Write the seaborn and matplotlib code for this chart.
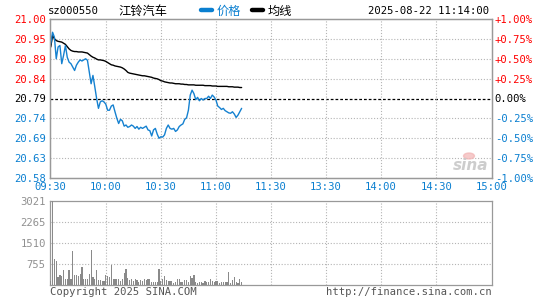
import numpy as np
import pandas as pd
import matplotlib
matplotlib.use("Agg")
import matplotlib.pyplot as plt
import seaborn as sns

# ---------------- data ----------------
prev_close = 20.79
price = [20.934, 20.965, 20.952, 20.895, 20.926, 20.930, 20.882, 20.904, 20.930, 20.899,
         20.886, 20.882, 20.873, 20.864, 20.878, 20.886, 20.892, 20.889, 20.892, 20.895,
         20.891, 20.860, 20.829, 20.851, 20.821, 20.790, 20.764, 20.781, 20.784, 20.781,
         20.775, 20.759, 20.759, 20.770, 20.773, 20.755, 20.738, 20.724, 20.735, 20.731,
         20.717, 20.720, 20.714, 20.716, 20.720, 20.717, 20.711, 20.716, 20.709, 20.714,
         20.711, 20.714, 20.717, 20.707, 20.705, 20.691, 20.707, 20.711, 20.696, 20.685,
         20.689, 20.688, 20.694, 20.711, 20.720, 20.711, 20.709, 20.711, 20.703, 20.707,
         20.716, 20.720, 20.723, 20.735, 20.739, 20.759, 20.799, 20.812, 20.803, 20.787,
         20.793, 20.784, 20.790, 20.786, 20.790, 20.790, 20.796, 20.790, 20.799, 20.794,
         20.786, 20.770, 20.766, 20.761, 20.764, 20.758, 20.755, 20.752, 20.751, 20.755,
         20.749, 20.740, 20.746, 20.755, 20.764]
avg = [20.926, 20.956, 20.948, 20.943, 20.941, 20.940, 20.939, 20.936, 20.933, 20.927,
       20.921, 20.917, 20.915, 20.914, 20.914, 20.913, 20.913, 20.913, 20.912, 20.911,
       20.910, 20.906, 20.902, 20.899, 20.897, 20.894, 20.892, 20.892, 20.891, 20.890,
       20.888, 20.885, 20.882, 20.879, 20.878, 20.876, 20.875, 20.874, 20.873, 20.871,
       20.868, 20.864, 20.859, 20.857, 20.856, 20.855, 20.854, 20.853, 20.852, 20.851,
       20.850, 20.850, 20.849, 20.848, 20.847, 20.846, 20.844, 20.843, 20.842, 20.840,
       20.837, 20.836, 20.834, 20.833, 20.832, 20.831, 20.831, 20.830, 20.829, 20.829,
       20.829, 20.828, 20.828, 20.827, 20.827, 20.826, 20.826, 20.826, 20.826, 20.825,
       20.825, 20.825, 20.825, 20.825, 20.824, 20.824, 20.824, 20.824, 20.823, 20.823,
       20.823, 20.822, 20.822, 20.822, 20.822, 20.822, 20.822, 20.821, 20.821, 20.821,
       20.820, 20.820, 20.820, 20.819, 20.819]
volume = [155, 3021, 940, 850, 275, 370, 310, 525, 215, 215,
          550, 205, 1205, 370, 370, 310, 405, 645, 215, 215,
          215, 405, 1265, 275, 215, 550, 190, 190, 130, 130,
          345, 310, 275, 730, 225, 225, 225, 225, 130, 225,
          430, 570, 250, 190, 225, 130, 215, 190, 105, 190,
          130, 215, 165, 215, 215, 95, 120, 105, 120, 570,
          155, 215, 335, 190, 155, 155, 130, 70, 95, 215,
          215, 105, 95, 165, 190, 120, 310, 250, 360, 120,
          70, 95, 95, 70, 130, 120, 120, 215, 130, 120,
          130, 155, 70, 95, 105, 95, 120, 475, 70, 165,
          285, 95, 70, 225, 95]
time_labels = ["09:30", "10:00", "10:30", "11:00", "11:30", "13:30", "14:00", "14:30", "15:00"]
price_labels = ["20.58", "20.63", "20.69", "20.74", "20.79", "20.84", "20.89", "20.95", "21.00"]
pct_labels = ["-1.00%", "-0.75%", "-0.50%", "-0.25%", "0.00%", "+0.25%", "+0.50%", "+0.75%", "+1.00%"]
vol_labels = ["755", "1510", "2265", "3021"]
vol_max = 3021

# ---------------- style ----------------
sns.set_theme(style="white")
plt.rcParams['font.family'] = ['DejaVu Sans Mono', 'Noto Sans CJK SC']

RED = "#ff0000"
BLUE = "#0a7fd0"
LINE_BLUE = "#1581d0"
GRAY = "#999999"
GRID = "#b4b4b4"
FS = 7.6

W, H = 545, 300
fig = plt.figure(figsize=(W / 100, H / 100), dpi=100)
fig.patch.set_facecolor("white")

L, R = 50, 492
ax = fig.add_axes([L / W, (H - 178) / H, (R - L) / W, (178 - 19) / H])
axv = fig.add_axes([L / W, (H - 285) / H, (R - L) / W, (285 - 201) / H])

n_total = 240
X0, X1 = -0.4, n_total + 0.4
x = np.arange(len(price))
df = pd.DataFrame({"t": x, "price": price, "avg": avg, "vol": volume})

# grid lines
ymin, ymax = prev_close - 0.21, prev_close + 0.21
yt = np.linspace(ymin, ymax, 9)
for i, yv in enumerate(yt):
    if i == 4:
        ax.axhline(yv, color="black", lw=0.9, ls=(0, (2.2, 1.6)), zorder=1)
    elif 0 < i < 8:
        ax.axhline(yv, color=GRID, lw=0.8, ls=(0, (1, 1.6)), zorder=1)
for k in range(1, 8):
    ax.axvline(k * 30, color=GRID, lw=0.8, ls=(0, (1, 1.6)), zorder=1)
    axv.axvline(k * 30, color=GRID, lw=0.8, ls=(0, (1, 1.6)), zorder=1)
for k in range(1, 4):
    axv.axhline(vol_max * k / 4, color=GRID, lw=0.8, ls=(0, (1, 1.6)), zorder=1)

sns.lineplot(data=df, x="t", y="avg", ax=ax, color="black", lw=1.0, zorder=3)
sns.lineplot(data=df, x="t", y="price", ax=ax, color=LINE_BLUE, lw=1.0, zorder=4)

ax.set_xlim(X0, X1)
ax.set_ylim(ymin, ymax)
ax.set_xlabel("")
ax.set_ylabel("")

ax.set_yticks(yt)
ax.set_yticklabels(price_labels, fontsize=FS)
for i, lab in enumerate(ax.get_yticklabels()):
    lab.set_color(BLUE if i < 4 else ("black" if i == 4 else RED))
ax.set_xticks(np.arange(0, 241, 30))
ax.set_xticklabels(time_labels, fontsize=FS, color=BLUE)
ax.tick_params(axis="both", length=0, pad=3)

ax2 = ax.twinx()
ax2.set_ylim(ymin, ymax)
ax2.set_yticks(yt)
ax2.set_yticklabels(pct_labels, fontsize=FS)
for i, lab in enumerate(ax2.get_yticklabels()):
    lab.set_color(BLUE if i < 4 else ("black" if i == 4 else RED))
ax2.tick_params(axis="y", length=0, pad=2)
ax2.grid(False)

for a in (ax, ax2, axv):
    for s in a.spines.values():
        s.set_color(GRAY)
        s.set_linewidth(0.9)
    a.grid(False)

# volume bars (one bar per minute, height = volume)
sns.histplot(data=df, x="t", weights="vol", discrete=True, shrink=0.65, ax=axv,
             color="#8a8a8a", alpha=1, linewidth=0, edgecolor="none", zorder=3)
axv.set_xlim(X0, X1)
axv.set_ylim(0, vol_max)
axv.set_xlabel("")
axv.set_ylabel("")
axv.set_xticks([])
axv.set_yticks([vol_max * k / 4 for k in range(1, 5)])
axv.set_yticklabels(vol_labels, fontsize=FS, color="#909090")
axv.tick_params(axis="y", length=0, pad=3)

# header texts
CJK = ['Noto Sans CJK SC', 'DejaVu Sans']
fig.text(48 / W, 1 - 11 / H, "sz000550", fontsize=FS, color="black", va="center", ha="left")
fig.text(118 / W, 1 - 11 / H, "江铃汽车", fontsize=8.8, color="black", va="center", ha="left", family=CJK)
fig.add_artist(plt.Line2D([201 / W, 212 / W], [1 - 10 / H, 1 - 10 / H], color=BLUE, lw=3.2))
fig.text(217 / W, 1 - 11 / H, "价格", fontsize=8.8, color=BLUE, va="center", ha="left", family=CJK)
fig.add_artist(plt.Line2D([252 / W, 263 / W], [1 - 10 / H, 1 - 10 / H], color="black", lw=3.2))
fig.text(268 / W, 1 - 11 / H, "均线", fontsize=8.8, color="black", va="center", ha="left", family=CJK)
fig.text(489 / W, 1 - 11 / H, "2025-08-22 11:14:00", fontsize=FS, color="black", va="center", ha="right")

# footer texts
fig.text(50 / W, 1 - 292 / H, "Copyright 2025 SINA.COM", fontsize=FS, color="#555555", va="center", ha="left")
fig.text(492 / W, 1 - 292 / H, "http://finance.sina.com.cn", fontsize=FS, color="#555555", va="center", ha="right")

# watermark
fig.text(471 / W, 1 - 165 / H, "sina", fontsize=11, color="#c8c8c8", style="italic", weight="bold",
         va="center", ha="center", family="DejaVu Sans", alpha=0.9)
fig.add_artist(plt.Circle((469 / W, 1 - 156 / H), 0.010, color="#f2b4b4", alpha=0.7,
                          transform=fig.transFigure))

fig.savefig("out.png", dpi=100, facecolor="white")
